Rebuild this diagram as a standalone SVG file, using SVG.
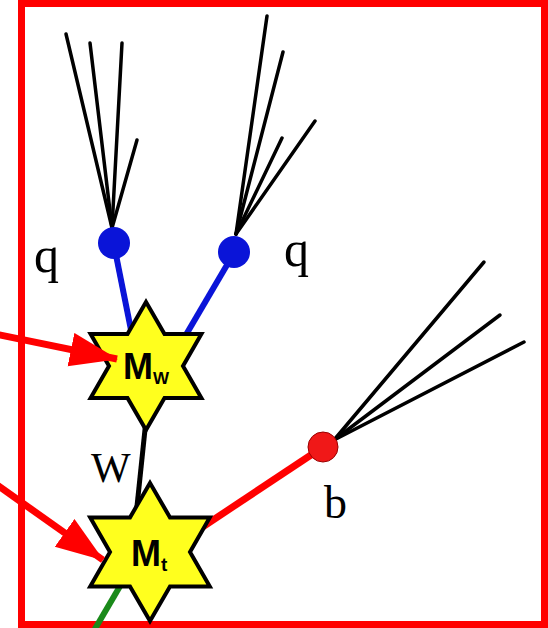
<svg xmlns="http://www.w3.org/2000/svg" width="548" height="628" viewBox="0 0 548 628">
<defs>
<style>
.jet{stroke:#000;stroke-width:3.5;fill:none;stroke-linecap:round}
.blue{stroke:#0a14d8;stroke-width:6;fill:none}
.star{fill:#ffff1e;stroke:#000;stroke-width:4;stroke-linejoin:miter}
.lbl{font-family:"Liberation Serif",serif;fill:#000}
.mlbl{font-family:"Liberation Sans",Arial,sans-serif;font-weight:bold;fill:#000}
.arrow{stroke:#f00;stroke-width:7;fill:none}
</style>
<marker id="ah" markerUnits="userSpaceOnUse" markerWidth="50" markerHeight="36" refX="47" refY="17" orient="auto">
<path d="M0,0 L48,17 L0,34 Z" fill="#f00"/>
</marker>
</defs>
<rect width="548" height="628" fill="#fff"/>
<rect id="frame" x="21.5" y="3.5" width="523" height="621" fill="none" stroke="#f00" stroke-width="7"/>
<g id="connectors">
<g id="jets-q1">
<line class="jet" x1="112" y1="228" x2="66" y2="34"/>
<line class="jet" x1="112" y1="228" x2="90" y2="43"/>
<line class="jet" x1="112" y1="228" x2="122" y2="43"/>
<line class="jet" x1="112" y1="228" x2="137" y2="140"/>
</g>
<g id="jets-q2">
<line class="jet" x1="236" y1="234" x2="267" y2="16"/>
<line class="jet" x1="236" y1="234" x2="283" y2="52"/>
<line class="jet" x1="236" y1="234" x2="282" y2="138"/>
<line class="jet" x1="236" y1="234" x2="315" y2="121"/>
</g>
<g id="jets-b">
<line class="jet" x1="334" y1="440" x2="484" y2="262"/>
<line class="jet" x1="334" y1="440" x2="500" y2="315"/>
<line class="jet" x1="334" y1="440" x2="524" y2="342"/>
</g>
<line class="blue" x1="114" y1="245" x2="134" y2="345"/>
<line class="blue" x1="234" y1="253" x2="180" y2="345"/>
<path d="M146,420 Q141,470 134,535" stroke="#000" stroke-width="5" fill="none"/>
<line x1="323" y1="447" x2="195" y2="532" stroke="#f00" stroke-width="7"/>
<line x1="140" y1="552" x2="92" y2="634" stroke="#1a8a1a" stroke-width="6"/>
</g>
<g id="q1">
<circle cx="114" cy="243" r="16" fill="#0a14d8"/>
<text class="lbl" x="34" y="272" font-size="50">q</text>
</g>
<g id="q2">
<circle cx="234" cy="252" r="16" fill="#0a14d8"/>
<text class="lbl" x="284" y="266" font-size="50">q</text>
</g>
<g id="b">
<circle cx="323" cy="447" r="15" fill="#f01818" stroke="#900" stroke-width="1"/>
<text class="lbl" x="324" y="518" font-size="46">b</text>
</g>
<g id="w-label">
<text class="lbl" x="91" y="482" font-size="42">W</text>
</g>
<g id="Mw">
<path class="star" d="M146,302 L164.5,334 L201.4,334 L183,366 L201.4,398 L164.5,398 L146,430 L127.5,398 L90.6,398 L109,366 L90.6,334 L127.5,334 Z"/>
<text class="mlbl" x="123" y="379" font-size="36">M<tspan font-size="17" dy="5">W</tspan></text>
</g>
<g id="Mt">
<path class="star" d="M150,483 L170,517.5 L209.8,517.5 L190,552 L209.8,586.5 L170,586.5 L150,621 L130,586.5 L90.2,586.5 L110,552 L90.2,517.5 L130,517.5 Z"/>
<text class="mlbl" x="131" y="566" font-size="36">M<tspan font-size="19" dy="5">t</tspan></text>
</g>
<g id="arrows">
<line class="arrow" x1="-10" y1="333" x2="117" y2="359" marker-end="url(#ah)"/>
<line class="arrow" x1="-10" y1="480" x2="103" y2="560" marker-end="url(#ah)"/>
</g>
</svg>
